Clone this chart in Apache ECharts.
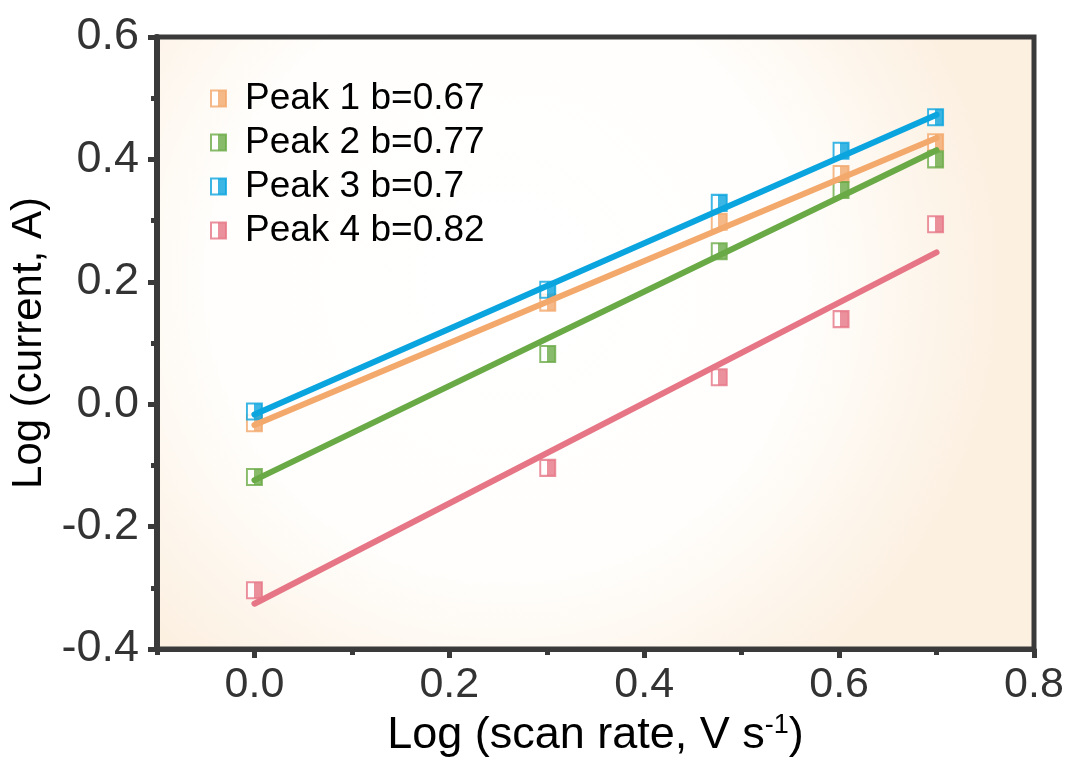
<!DOCTYPE html>
<html>
<head>
<meta charset="utf-8">
<script src="https://cdn.jsdelivr.net/npm/echarts@6/dist/echarts.min.js"></script>
<style>
  html, body { margin: 0; padding: 0; background: #ffffff; }
  #chart { width: 1073px; height: 765px; }
</style>
</head>
<body>
<div id="chart"></div>
<script>
// log(scan rate) positions, shared by all four peaks
const logScanRate = [0, 0.301, 0.477, 0.602, 0.699];

// measured log(current) per peak
const peak1 = [-0.031, 0.166, 0.298, 0.376, 0.428];
const peak2 = [-0.119, 0.082, 0.250, 0.350, 0.400];
const peak3 = [-0.012, 0.187, 0.329, 0.414, 0.469];
const peak4 = [-0.304, -0.104, 0.044, 0.139, 0.294];

// linear fits: slope b and intercept
const seriesNames = ['Peak 1', 'Peak 2', 'Peak 3', 'Peak 4'];
const slopes = [0.67, 0.77, 0.70, 0.82];
const intercepts = [-0.034, -0.124, -0.017, -0.326];
const fitRange = [0, 0.7];

const yTicks = [-0.4, -0.2, 0.0, 0.2, 0.4, 0.6];
const xTicks = [0.0, 0.2, 0.4, 0.6, 0.8];

const colors = ['#F3A86C', '#6AAA46', '#0AA4DF', '#E67686'];
const peaks = [peak1, peak2, peak3, peak4];

const chart = echarts.init(document.getElementById('chart'), null, { renderer: 'canvas' });

// half-open square: white left part, coloured right part
function halfFill(c) {
  return new echarts.graphic.LinearGradient(0, 0, 1, 0, [
    { offset: 0, color: '#ffffff' },
    { offset: 0.45, color: '#ffffff' },
    { offset: 0.45, color: c },
    { offset: 1, color: c }
  ]);
}

const series = [];
peaks.forEach((vals, i) => {
  series.push({
    name: seriesNames[i] + ' b=' + slopes[i],
    type: 'scatter',
    symbol: 'rect',
    symbolSize: [15, 16],
    itemStyle: { color: halfFill(colors[i]), borderColor: colors[i], borderWidth: 2 },
    data: logScanRate.map((x, k) => [x, vals[k]]),
    z: 2
  });
});
peaks.forEach((vals, i) => {
  series.push({
    type: 'line',
    showSymbol: false,
    symbol: 'none',
    silent: true,
    lineStyle: { color: colors[i], width: 6, cap: 'round' },
    data: fitRange.map(x => [x, intercepts[i] + slopes[i] * x]),
    z: 3
  });
});

const axisColor = '#3a3a3a';
const font = 'Liberation Sans, Arial, sans-serif';

chart.setOption({
  animation: false,
  textStyle: { fontFamily: font },
  grid: {
    left: 157, top: 37, right: 39, bottom: 116,
    show: true,
    borderColor: axisColor,
    borderWidth: 5,
    backgroundColor: new echarts.graphic.RadialGradient(0.4, 0.4, 0.8, [
      { offset: 0, color: '#ffffff' },
      { offset: 0.6, color: '#fffefc' },
      { offset: 1, color: '#fcf0e1' }
    ])
  },
  legend: {
    orient: 'vertical',
    left: 205,
    top: 75,
    itemGap: 7,
    itemWidth: 15,
    itemHeight: 16,
    icon: 'rect',
    textStyle: { fontSize: 37, color: '#000000', fontFamily: font, padding: [0, 0, 0, 14] },
    data: seriesNames.map((n, i) => n + ' b=' + slopes[i])
  },
  xAxis: [
    {
      type: 'value',
      min: -0.1,
      max: 0.8,
      splitNumber: 5,
      name: '{t|Log (scan rate, V s}{s|-1}{t|)}',
      nameLocation: 'middle',
      nameGap: 60,
      nameTextStyle: {
        rich: {
          t: { fontSize: 45, color: '#000', fontFamily: font },
          s: { fontSize: 27, color: '#000', fontFamily: font, verticalAlign: 'top', padding: [0, 0, 20, 0] }
        }
      },
      axisLine: { show: true, onZero: false, lineStyle: { color: axisColor, width: 5 } },
      axisTick: { show: true, inside: false, length: 9, lineStyle: { color: axisColor, width: 5 } },
      axisLabel: {
        showMinLabel: false,
        margin: 15,
        fontSize: 43,
        color: '#333333',
        fontFamily: font,
        formatter: v => xTicks.some(t => Math.abs(t - v) < 1e-9) ? v.toFixed(1) : ''
      },
      splitLine: { show: false }
    },
    {
      // minor ticks at the odd tenths
      type: 'value',
      min: -0.1,
      max: 0.8,
      interval: 0.2,
      position: 'bottom',
      axisLine: { show: false, onZero: false },
      axisTick: { show: true, inside: false, length: 6, lineStyle: { color: axisColor, width: 5 } },
      axisLabel: { show: false },
      splitLine: { show: false }
    }
  ],
  yAxis: {
    type: 'value',
    min: -0.4,
    max: 0.6,
    interval: 0.2,
    name: 'Log (current, A)',
    nameLocation: 'middle',
    nameGap: 102,
    nameTextStyle: { fontSize: 42, color: '#000', fontFamily: font },
    axisLine: { show: true, onZero: false, lineStyle: { color: axisColor, width: 6 } },
    axisTick: { show: true, inside: false, length: 9, lineStyle: { color: axisColor, width: 5 } },
    minorTick: { show: true, splitNumber: 2, length: 6, lineStyle: { color: axisColor, width: 5 } },
    axisLabel: {
      margin: 18,
      fontSize: 45,
      color: '#333333',
      fontFamily: font,
      formatter: v => v.toFixed(1)
    },
    splitLine: { show: false },
    minorSplitLine: { show: false }
  },
  series: series
});
</script>
</body>
</html>
